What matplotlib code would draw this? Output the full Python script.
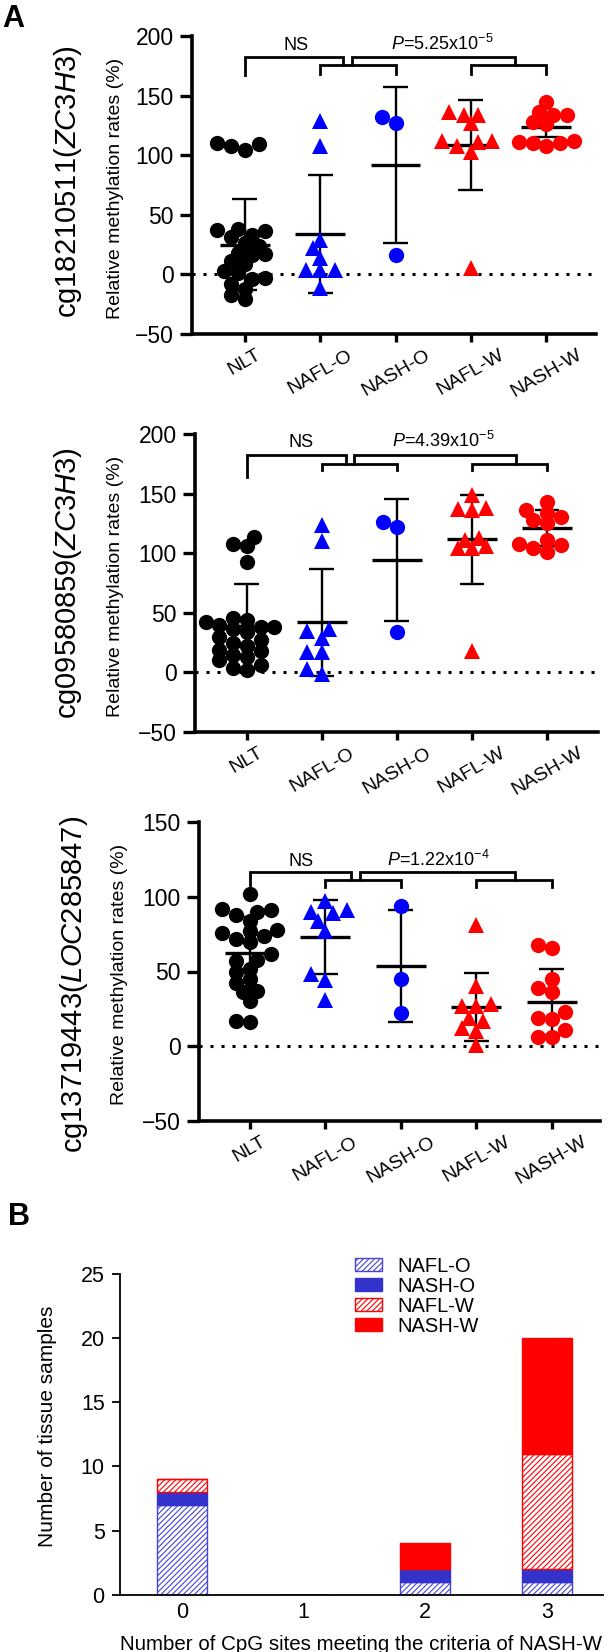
import numpy as np
import matplotlib
matplotlib.use("Agg")
import matplotlib.pyplot as plt

plt.rcParams['font.family'] = ['Liberation Sans', 'DejaVu Sans']
plt.rcParams['mathtext.fontset'] = 'custom'
plt.rcParams['mathtext.rm'] = 'Liberation Sans'
plt.rcParams['mathtext.it'] = 'Liberation Sans:italic'
plt.rcParams['mathtext.bf'] = 'Liberation Sans:bold'
plt.rcParams['hatch.linewidth'] = 0.8

# ---------------- data ----------------
groups = ['NLT', 'NAFL-O', 'NASH-O', 'NAFL-W', 'NASH-W']

site1_label = 'cg18210511($\\mathit{ZC3H3}$)'
site1_nlt = [110, 109, 108, 104, 38, 37, 36, 33, 31, 26, 24, 18, 17, 16, 11, 9, 3, 1, -3, -4, -8, -12, -17, -21]
site1_naflo = [129, 108, 29, 22, 14, 4, 4, 4, -11]
site1_nasho = [132, 127, 16]
site1_naflw = [136, 134, 134, 127, 112, 112, 111, 108, 103, 5]
site1_nashw = [145, 136, 134, 134, 128, 126, 112, 111, 110, 110, 108]
site1_mean = [25, 34, 92, 108.5, 123.5]
site1_sd = [38, 49.5, 65.5, 38, 8]
site1_p = '$\\mathit{P}$=5.25x10$^{-5}$'

site2_label = 'cg09580859($\\mathit{ZC3H3}$)'
site2_nlt = [114, 108, 106, 93, 46, 44, 42, 40, 38, 38, 36, 34, 30, 27, 25, 22, 19, 18, 15, 13, 10, 6, 4, 2]
site2_naflo = [124, 110, 36, 35, 29, 17, 17, 3, -1]
site2_nasho = [126, 122, 34]
site2_naflw = [149, 138, 137, 136, 113, 111, 106, 104, 104, 18]
site2_nashw = [143, 136, 134, 130, 128, 125, 111, 108, 107, 104, 101]
site2_mean = [39, 42, 94.5, 111.5, 121]
site2_sd = [35, 45, 51, 37, 15]
site2_p = '$\\mathit{P}$=4.39x10$^{-5}$'

site3_label = 'cg13719443($\\mathit{LOC285847}$)'
site3_nlt = [102, 92, 91, 90, 88, 84, 78, 77, 76, 74, 72, 70, 62, 58, 57, 52, 50, 45, 42, 37, 36, 30, 17, 16]
site3_naflo = [97, 91, 90, 89, 84, 77, 48, 44, 31]
site3_nasho = [94, 45, 22]
site3_naflw = [81, 40, 28, 27, 27, 19, 17, 12, 10, 1]
site3_nashw = [68, 66, 45, 39, 36, 23, 19, 18, 11, 6, 6]
site3_mean = [62.5, 73, 53.5, 26.3, 29.7]
site3_sd = [24, 24.5, 37.5, 22.8, 22]
site3_p = '$\\mathit{P}$=1.22x10$^{-4}$'

# panel B: counts by number of CpG sites meeting criteria
cpg_sites = [0, 1, 2, 3]
b_naflo = [7, 0, 1, 1]
b_nasho = [1, 0, 1, 1]
b_naflw = [1, 0, 0, 9]
b_nashw = [0, 0, 2, 9]

# ---------------- layout ----------------
W, H = 608, 1652
fig = plt.figure(figsize=(W / 100, H / 100), dpi=100)


def add_ax(l, t, r, b):
    return fig.add_axes([l / W, 1 - b / H, (r - l) / W, (b - t) / H])


marker_style = [('o', 'black', 11), ('^', '#0000ff', 11.5), ('o', '#0000ff', 11),
                ('^', '#ff0000', 11.5), ('o', '#ff0000', 11)]


def swarm(vals, xppu, yppu, diam):
    vals = np.asarray(vals, float)
    ypx = vals * yppu
    order = np.argsort(ypx)
    placed = []
    offs = np.zeros(len(vals))
    step = 0.45 * diam
    mind = 0.68 * diam
    cands = [0.0]
    for k in range(1, 12):
        cands += [-k * step, k * step]
    for i in order:
        y = ypx[i]
        for c in cands:
            if all((c - px) ** 2 + (y - py) ** 2 >= mind ** 2 for px, py in placed):
                break
        placed.append((c, y))
        offs[i] = c
    return offs / xppu


def scatter_panel(box, xlim, ylim, yticks, series, means, sds, big_label, big_x, big_y,
                  ylab_x, ylab_y, br, txt_y, ns_x, p_x, p_text):
    ax = add_ax(*box)
    ax.set_xlim(*xlim)
    ax.set_ylim(*ylim)
    pos = ax.get_position()
    xppu = pos.width * W / (xlim[1] - xlim[0])
    yppu = pos.height * H / (ylim[1] - ylim[0])
    ax.axhline(0, color='black', lw=2.2, ls=(0, (1, 2.6)), zorder=1)
    for i, (vals, m, s) in enumerate(zip(series, means, sds)):
        mk, col, ms = marker_style[i]
        ax.vlines(i, m - s, m + s, color='black', lw=1.7, zorder=2)
        ax.hlines([m - s, m + s], i - 0.165, i + 0.165, color='black', lw=1.7, zorder=2)
        ax.hlines(m, i - 0.33, i + 0.33, color='black', lw=2.4, zorder=2)
        d = ms * 100 / 72.0
        offs = swarm(vals, xppu, yppu, d)
        ax.plot(i + offs, vals, ls='none', marker=mk, color=col, ms=ms, mew=0, zorder=3,
                clip_on=False)
    # brackets
    top, mid, low, nlt_low, xr1, xl2, xr2 = br
    kw = dict(color='black', lw=2.0, clip_on=False, solid_joinstyle='miter', zorder=4)
    ax.plot([0, 0, xr1, xr1], [nlt_low, top, top, mid], **kw)
    ax.plot([1, 1, 2, 2], [low, mid, mid, low], **kw)
    ax.plot([xl2, xl2, xr2, xr2], [mid, top, top, mid], **kw)
    ax.plot([3, 3, 4, 4], [low, mid, mid, low], **kw)
    ax.text(ns_x, txt_y, 'NS', ha='center', va='baseline', fontsize=13)
    ax.text(p_x, txt_y, p_text, ha='center', va='baseline', fontsize=13)

    for sp in ['top', 'right']:
        ax.spines[sp].set_visible(False)
    for sp in ['left', 'bottom']:
        ax.spines[sp].set_linewidth(2.6)
    ax.set_yticks(yticks)
    ax.set_xticks(range(len(groups)))
    ax.set_xticklabels(groups, rotation=30, ha='center', va='top', fontsize=14)
    ax.tick_params(axis='y', length=9, width=2.4, pad=4, labelsize=16.5)
    ax.tick_params(axis='x', length=6, width=2.4, pad=3)
    ax.set_ylabel('Relative methylation rates (%)', fontsize=14, va='center')
    ax.yaxis.set_label_coords((ylab_x - box[0]) / (box[2] - box[0]), ylab_y)
    ax.text((big_x - box[0]) / (box[2] - box[0]), big_y, big_label, transform=ax.transAxes,
            rotation=90, ha='center', va='center', rotation_mode='anchor', fontsize=21)
    return ax


scatter_panel((192, 36, 596, 334), (-0.70, 4.66), (-50, 200), [-50, 0, 50, 100, 150, 200],
              [site1_nlt, site1_naflo, site1_nasho, site1_naflw, site1_nashw],
              site1_mean, site1_sd, site1_label, 68, 0.512, 116, 0.49,
              (182, 176, 168.5, 167, 1.30, 1.42, 3.58), 188, 0.68, 2.62, site1_p)

scatter_panel((195, 434, 598, 732), (-0.69, 4.68), (-50, 200), [-50, 0, 50, 100, 150, 200],
              [site2_nlt, site2_naflo, site2_nasho, site2_naflw, site2_nashw],
              site2_mean, site2_sd, site2_label, 68, 0.50, 116, 0.49,
              (182.6, 175, 169.4, 164, 1.32, 1.43, 3.59), 189, 0.72, 2.62, site2_p)

scatter_panel((199, 822, 600, 1121), (-0.675, 4.64), (-50, 150), [-50, 0, 50, 100, 150],
              [site3_nlt, site3_naflo, site3_nasho, site3_naflw, site3_nashw],
              site3_mean, site3_sd, site3_label, 74, 0.458, 120, 0.49,
              (116.7, 111.2, 106.7, 107.8, 1.34, 1.46, 3.52), 120.6, 0.68, 2.50, site3_p)

# ---------------- panel B ----------------
axb = add_ax(120, 1273.7, 603, 1594.8)
axb.set_xlim(-0.51, 3.46)
axb.set_ylim(0, 25)
blue_solid = '#3333cc'
blue_hatch = '#4444dd'
red = '#ff0000'
bw = 0.41
x = np.array(cpg_sites, float)
b0 = np.zeros(len(x))
axb.bar(x, b_naflo, bw, bottom=b0, color='white', edgecolor=blue_hatch, hatch='//////', lw=1.0,
        label='NAFL-O')
b1 = b0 + np.array(b_naflo)
axb.bar(x, b_nasho, bw, bottom=b1, color=blue_solid, edgecolor=blue_solid, lw=1.0, label='NASH-O')
b2 = b1 + np.array(b_nasho)
axb.bar(x, b_naflw, bw, bottom=b2, color='white', edgecolor=red, hatch='//////', lw=1.0,
        label='NAFL-W')
b3 = b2 + np.array(b_naflw)
axb.bar(x, b_nashw, bw, bottom=b3, color=red, edgecolor=red, lw=1.0, label='NASH-W')

for sp in ['top', 'right']:
    axb.spines[sp].set_visible(False)
for sp in ['left', 'bottom']:
    axb.spines[sp].set_linewidth(1.3)
axb.set_yticks([0, 5, 10, 15, 20, 25])
axb.set_xticks(cpg_sites)
axb.tick_params(axis='y', length=6, width=1.3, pad=5, labelsize=15.5)
axb.tick_params(axis='x', length=0, pad=5, labelsize=15.5)
axb.set_ylabel('Number of tissue samples', fontsize=15, va='center')
axb.yaxis.set_label_coords((48 - 120) / 483, 0.526)
axb.set_xlabel('Number of CpG sites meeting the criteria of NASH-W', fontsize=14.8, va='center')
axb.xaxis.set_label_coords((361.5 - 120) / 483, (1594.8 - 1644) / 321.1)
axb.legend(loc='upper left', bbox_to_anchor=((355 - 120) / 483, (1594.8 - 1256.5) / 321.1),
           frameon=False, fontsize=14.5, borderpad=0, borderaxespad=0, labelspacing=0.05,
           handlelength=1.34, handleheight=0.68, handletextpad=0.75)

fig.text(2 / W, 1 - 4 / H, 'A', fontsize=22, fontweight='bold', ha='left', va='top')
fig.text(8 / W, 1 - 1202 / H, 'B', fontsize=22, fontweight='bold', ha='left', va='top')

fig.savefig('out.png', dpi=100)
